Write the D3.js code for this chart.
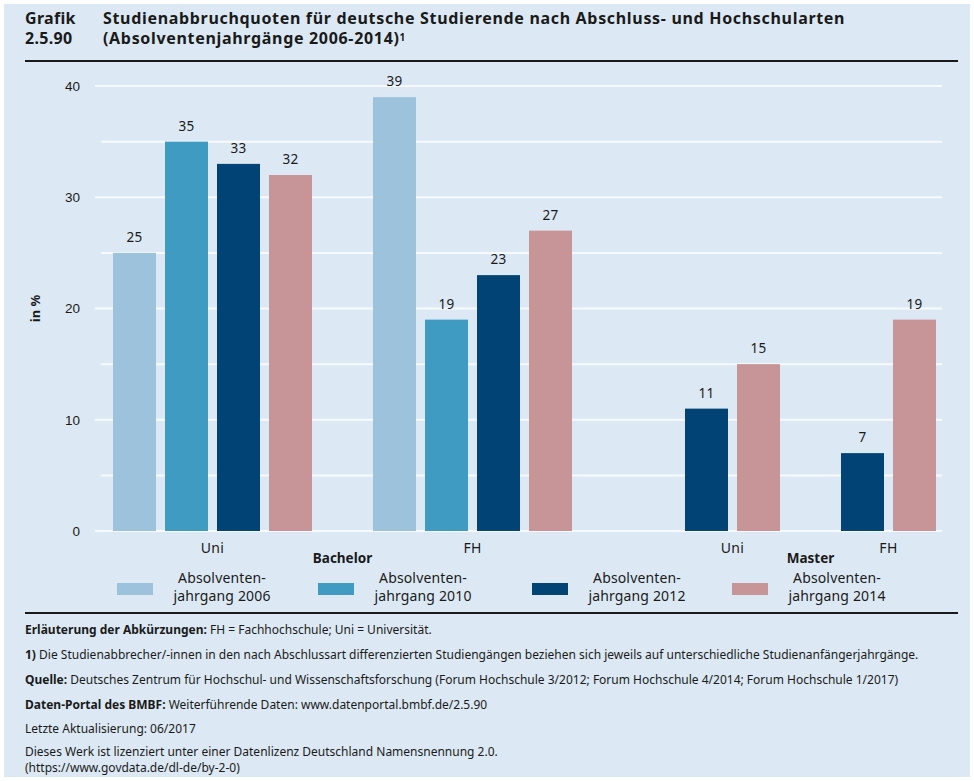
<!DOCTYPE html>
<html>
<head>
<meta charset="utf-8">
<script src="https://cdn.jsdelivr.net/npm/d3@7"></script>
<style>
  body { margin: 0; background: #fff; }
  svg { display: block; font-family: "Noto Sans", "Open Sans", sans-serif; }
</style>
</head>
<body>
<div id="chart"></div>
<script>
// chart data
const seriesNames = ['Absolventenjahrgang 2006', 'Absolventenjahrgang 2010', 'Absolventenjahrgang 2012', 'Absolventenjahrgang 2014'];
const seriesColors = ['#9dc3dc', '#3f9bc1', '#004374', '#c79497'];
const legendLines = [['Absolventen-', 'jahrgang 2006'], ['Absolventen-', 'jahrgang 2010'], ['Absolventen-', 'jahrgang 2012'], ['Absolventen-', 'jahrgang 2014']];
const levels = ['Bachelor', 'Master'];
const types = ['Uni', 'FH'];
// values per level/type, order 2006, 2010, 2012, 2014 (null = no data)
const bachelorUni = [25, 35, 33, 32];
const bachelorFH = [39, 19, 23, 27];
const masterUni = [null, null, 11, 15];
const masterFH = [null, null, 7, 19];
const yTicks = [0, 10, 20, 30, 40];
const gridValues = [0, 5, 10, 15, 20, 25, 30, 35, 40];

const footnotes = [
  { b: 'Erläuterung der Abkürzungen:', t: ' FH = Fachhochschule; Uni = Universität.' },
  { b: '1)', t: ' Die Studienabbrecher/-innen in den nach Abschlussart differenzierten Studiengängen beziehen sich jeweils auf unterschiedliche Studienanfängerjahrgänge.' },
  { b: 'Quelle:', t: ' Deutsches Zentrum für Hochschul- und Wissenschaftsforschung (Forum Hochschule 3/2012; Forum Hochschule 4/2014; Forum Hochschule 1/2017)' },
  { b: 'Daten-Portal des BMBF:', t: ' Weiterführende Daten: www.datenportal.bmbf.de/2.5.90' },
  { b: '', t: 'Letzte Aktualisierung: 06/2017' },
  { b: '', t: 'Dieses Werk ist lizenziert unter einer Datenlizenz Deutschland Namensnennung 2.0.' },
  { b: '', t: '(https://www.govdata.de/dl-de/by-2-0)' }
];
const footY = [634, 659, 684, 709, 733, 756, 772];

const W = 974, H = 781;
const groups = [
  { level: 'Bachelor', type: 'Uni', values: bachelorUni },
  { level: 'Bachelor', type: 'FH', values: bachelorFH },
  { level: 'Master', type: 'Uni', values: masterUni },
  { level: 'Master', type: 'FH', values: masterFH }
];

// slot domain: one slot per existing bar, one gap slot between types, two between levels
const slots = [];
const bars = [];
groups.forEach((g, gi) => {
  if (gi > 0) {
    slots.push('gap' + gi);
    if (g.level !== groups[gi - 1].level) slots.push('gap' + gi + 'b');
  }
  g.values.forEach((v, si) => {
    if (v == null) return;
    const key = g.level + g.type + si;
    slots.push(key);
    bars.push({ key, value: v, series: si, group: gi });
  });
});

const svg = d3.select('#chart').append('svg').attr('width', W).attr('height', H);
svg.append('rect').attr('x', 4).attr('y', 4).attr('width', W - 8).attr('height', H - 8).attr('fill', '#dce9f4');

// title
const title = svg.append('g').attr('font-weight', 700).attr('font-size', 16).attr('fill', '#1a1a1a');
title.append('text').attr('x', 25).attr('y', 24).attr('letter-spacing', 0.3).text('Grafik');
title.append('text').attr('x', 25).attr('y', 44).attr('letter-spacing', 0.3).text('2.5.90');
title.append('text').attr('x', 103).attr('y', 24).attr('letter-spacing', 0.68).text('Studienabbruchquoten für deutsche Studierende nach Abschluss- und Hochschularten');
const t2 = title.append('text').attr('x', 103).attr('y', 44).attr('letter-spacing', 0.68).text('(Absolventenjahrgänge 2006-2014)');
t2.append('tspan').attr('font-size', 10).attr('dy', -3).text('1');
svg.append('line').attr('x1', 25).attr('x2', 958).attr('y1', 61).attr('y2', 61).attr('stroke', '#1a1a1a').attr('stroke-width', 2);

const x = d3.scaleBand().domain(slots).range([113, 936]).paddingInner(0.173).paddingOuter(0);
const y = d3.scaleLinear().domain([0, 40]).range([531, 86]);

// gridlines
svg.append('g').selectAll('line').data(gridValues).join('line')
  .attr('x1', d => d % 10 === 0 ? 95 : 101).attr('x2', 942)
  .attr('y1', d => y(d)).attr('y2', d => y(d))
  .attr('stroke', '#f7fafd').attr('stroke-width', 2);

// y axis labels
const yAxis = svg.append('g').attr('transform', 'translate(80,0)')
  .call(d3.axisLeft(y).tickValues(yTicks).tickSize(0).tickPadding(0));
yAxis.select('.domain').remove();
yAxis.selectAll('text').attr('font-size', 13.5).attr('fill', '#1a1a1a').attr('font-family', null);

svg.append('text').attr('transform', `translate(40,${y(20)}) rotate(-90)`)
  .attr('text-anchor', 'middle').attr('font-size', 13).attr('font-weight', 700).attr('fill', '#1a1a1a').text('in %');

// bars
svg.append('g').selectAll('rect').data(bars).join('rect')
  .attr('x', d => x(d.key)).attr('width', x.bandwidth())
  .attr('y', d => y(d.value)).attr('height', d => y(0) - y(d.value))
  .attr('fill', d => seriesColors[d.series]);

svg.append('g').selectAll('text').data(bars).join('text')
  .attr('x', d => x(d.key) + x.bandwidth() / 2).attr('y', d => y(d.value) - 11)
  .attr('text-anchor', 'middle').attr('font-size', 13.5).attr('letter-spacing', 0.3).attr('fill', '#1a1a1a')
  .text(d => d.value);

// category labels
function span(list) {
  const xs = list.map(b => x(b.key));
  return (d3.min(xs) + d3.max(xs) + x.bandwidth()) / 2;
}
groups.forEach((g, gi) => {
  svg.append('text').attr('x', span(bars.filter(b => b.group === gi))).attr('y', 553)
    .attr('text-anchor', 'middle').attr('font-size', 14).attr('letter-spacing', 0.3).attr('fill', '#1a1a1a').text(g.type);
});
levels.forEach(l => {
  const gis = groups.map((g, i) => g.level === l ? i : -1).filter(i => i >= 0);
  svg.append('text').attr('x', span(bars.filter(b => gis.includes(b.group)))).attr('y', 563)
    .attr('text-anchor', 'middle').attr('font-size', 13.5).attr('font-weight', 700).attr('fill', '#1a1a1a').text(l);
});

// legend
const legend = svg.append('g').selectAll('g').data(seriesNames).join('g')
  .attr('transform', (d, i) => `translate(${[117, 318, 532, 732][i]},0)`);
legend.append('rect').attr('x', 0).attr('y', 583).attr('width', 36).attr('height', 12)
  .attr('fill', (d, i) => seriesColors[i]);
legend.each(function (d, i) {
  const t = d3.select(this).append('text').attr('text-anchor', 'middle').attr('font-size', 14)
    .attr('letter-spacing', 0.15).attr('fill', '#1a1a1a');
  legendLines[i].forEach((line, li) => {
    t.append('tspan').attr('x', 105).attr('y', 583 + li * 18).text(line);
  });
});

svg.append('line').attr('x1', 25).attr('x2', 958).attr('y1', 613).attr('y2', 613).attr('stroke', '#1a1a1a').attr('stroke-width', 2);

// footnotes
const foot = svg.append('g').attr('font-size', 12).attr('fill', '#1a1a1a');
footnotes.forEach((f, i) => {
  const t = foot.append('text').attr('x', 25).attr('y', footY[i]);
  if (f.b) t.append('tspan').attr('font-weight', 700).text(f.b);
  t.append('tspan').text(f.t);
});
</script>
</body>
</html>
